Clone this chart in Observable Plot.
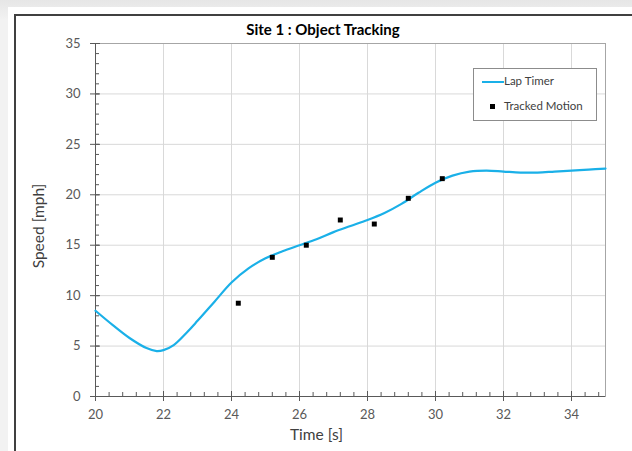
<!DOCTYPE html>
<html>
<head>
<meta charset="utf-8">
<script src="https://cdn.jsdelivr.net/npm/d3@7"></script>
<script src="https://cdn.jsdelivr.net/npm/@observablehq/plot@0.6"></script>
<style>
  html, body { margin: 0; padding: 0; }
  body { width: 632px; height: 451px; overflow: hidden; position: relative;
         background: linear-gradient(to bottom, #e6e6e6, #f2f2f2 20px, #f2f2f2);
         font-family: Lato, "Open Sans", sans-serif; }
  #white { position: absolute; left: 8px; top: 7px; width: 700px; height: 500px; background: #fff; }
  #frame { position: absolute; left: 14px; top: 14px; width: 700px; height: 500px;
           border-left: 2px solid #404040; border-top: 2px solid #404040; background: #fff; }
  #chart { position: absolute; left: 0; top: 0; }
  #title { position: absolute; left: 0; width: 646px; top: 20px; text-align: center;
           font-weight: bold; font-size: 15px; color: #000; }
  #legend { position: absolute; left: 473px; top: 68px; width: 122px; height: 51px;
            border: 1px solid #8c8c8c; background: #fff; font-size: 11.5px; color: #404040; }
  .li { position: absolute; left: 30px; }
</style>
</head>
<body>
<div id="white"></div>
<div id="frame"></div>
<div id="chart"></div>
<div id="title">Site 1 : Object Tracking</div>
<div id="legend">
  <div style="position:absolute;left:8px;top:12px;width:22px;height:2px;background:#1ab0e8"></div>
  <div class="li" style="top:5px">Lap Timer</div>
  <div style="position:absolute;left:16px;top:35px;width:5px;height:5px;background:#000"></div>
  <div class="li" style="top:30px">Tracked Motion</div>
</div>
<script>
// Lap Timer curve (time s, speed mph)
const lapTime  = [20, 20.5, 21, 21.5, 21.8, 22, 22.3, 22.7, 23, 23.5, 24, 24.5, 25, 25.5, 26, 26.5, 27, 27.5, 28, 28.5, 29, 29.5, 30, 30.5, 31, 31.5, 32, 32.5, 33, 33.5, 34, 34.5, 35];
const lapSpeed = [8.5, 7.1, 5.8, 4.8, 4.5, 4.6, 5.1, 6.4, 7.5, 9.4, 11.3, 12.7, 13.7, 14.4, 15.0, 15.6, 16.3, 16.9, 17.5, 18.2, 19.1, 20.2, 21.2, 21.9, 22.3, 22.4, 22.3, 22.2, 22.2, 22.3, 22.4, 22.5, 22.6];
// Tracked Motion points
const trackTime  = [24.2, 25.2, 26.2, 27.2, 28.2, 29.2, 30.2];
const trackSpeed = [9.25, 13.8, 15.0, 17.5, 17.1, 19.65, 21.6];
// Axis ticks
const xTicks = [20, 22, 24, 26, 28, 30, 32, 34];
const yTicks = [0, 5, 10, 15, 20, 25, 30, 35];
const xMinor = d3.range(20, 35.001, 0.4).map(v => +v.toFixed(1));
const yMinor = d3.range(0, 35.001, 1);

const lap = lapTime.map((t, i) => ({t, s: lapSpeed[i]}));
const track = trackTime.map((t, i) => ({t, s: trackSpeed[i]}));

const axisColor = "#595959";
const plot = Plot.plot({
  width: 632,
  height: 451,
  marginLeft: 95,
  marginRight: 27,
  marginTop: 43,
  marginBottom: 55,
  style: { background: "transparent", fontFamily: "Lato, 'Open Sans', sans-serif", overflow: "visible" },
  x: { domain: [20, 35] },
  y: { domain: [0, 35] },
  marks: [
    Plot.gridX(xTicks.filter(d => d > 20), { stroke: "#d9d9d9", strokeOpacity: 1 }),
    Plot.gridY(yTicks.filter(d => d > 0 && d < 35), { stroke: "#d9d9d9", strokeOpacity: 1 }),
    Plot.frame({ stroke: "#a6a6a6" }),
    // y axis
    Plot.axisY({ ticks: yTicks, tickSize: 5, tickPadding: 10, fontSize: 13, color: axisColor, stroke: axisColor, label: null }),
    Plot.axisY({ ticks: yTicks, tickSize: 5, dx: 5, text: null, stroke: axisColor, label: null }),
    Plot.axisY({ ticks: yMinor, tickSize: 4, dx: 4, text: null, stroke: axisColor, label: null }),
    // x axis
    Plot.axisX({ ticks: xTicks, tickSize: 5, tickPadding: 8, fontSize: 13, color: axisColor, stroke: axisColor, label: null }),
    Plot.axisX({ ticks: xTicks, tickSize: 5, dy: -5, text: null, stroke: axisColor, label: null }),
    Plot.axisX({ ticks: xMinor, tickSize: 4, dy: -4, text: null, stroke: axisColor, label: null }),
    Plot.ruleX([20], { stroke: axisColor }),
    Plot.ruleY([0], { stroke: axisColor }),
    // axis labels
    Plot.text(["Time [s]"], { frameAnchor: "bottom", textAnchor: "middle", dx: -34, dy: 43, fontSize: 15.5, fill: "#404040" }),
    Plot.text(["Speed [mph]"], { frameAnchor: "left", textAnchor: "middle", dx: -56, dy: 6, rotate: -90, fontSize: 15.5, fill: "#404040" }),
    // data
    Plot.line(lap, { x: "t", y: "s", stroke: "#1ab0e8", strokeWidth: 2.2, curve: "catmull-rom" }),
    Plot.dot(track, { x: "t", y: "s", symbol: "square", r: 2.8, fill: "#000", stroke: "none" })
  ]
});
document.getElementById("chart").appendChild(plot);
</script>
</body>
</html>
